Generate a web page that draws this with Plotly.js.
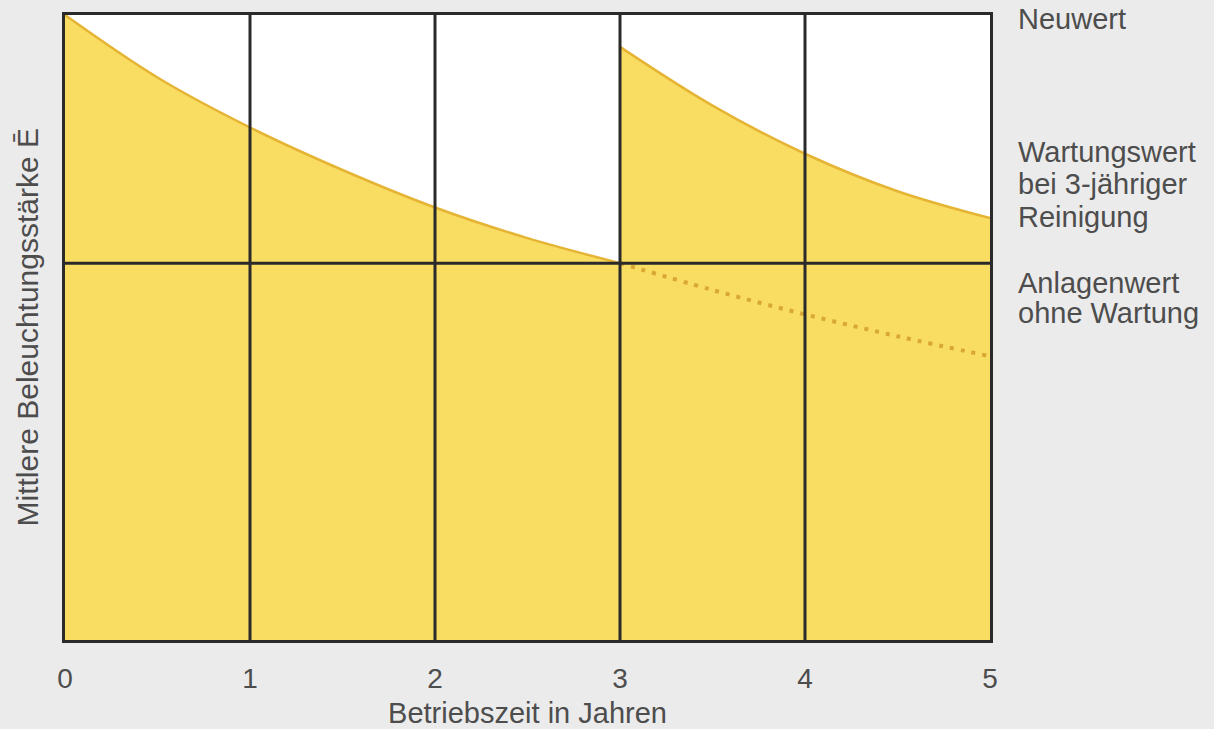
<!DOCTYPE html>
<html>
<head>
<meta charset="utf-8">
<script src="https://cdn.plot.ly/plotly-3.0.1.min.js"></script>
<style>html,body{margin:0;padding:0;background:#ebebeb;}#chart{width:1214px;height:729px;}</style>
</head>
<body>
<div id="chart"></div>
<script>
// Data
const yearsFirst = [0, 0.5, 1, 1.5, 2, 2.5, 3];
const illumFirst = [1.0, 0.900, 0.820, 0.752, 0.692, 0.643, 0.603];
const yearsSecond = [3, 3.5, 4, 4.5, 5];
const illumSecond = [0.949, 0.855, 0.778, 0.718, 0.675];
const yearsNoMaint = [3, 3.5, 4, 4.5, 5];
const illumNoMaint = [0.603, 0.560, 0.521, 0.486, 0.454];
const xTicks = [0, 1, 2, 3, 4, 5];
const gridYears = [1, 2, 3, 4];
const maintenanceValue = 0.603;
const newValue = 1.0;
const labelNeuwert = "Neuwert";
const labelWartung = ["Wartungswert", "bei 3-jähriger", "Reinigung"];
const labelAnlage = ["Anlagenwert", "ohne Wartung"];
const xTitle = "Betriebszeit in Jahren";
const yTitle = "Mittlere Beleuchtungsstärke Ē";

const yellow = "#f8dd62";
const gold = "#e6b434";
const dark = "#2a2a2a";
const textColor = "#4d4d4d";
const font = "Liberation Sans, Arial, sans-serif";

const traces = [
  {x: yearsFirst, y: illumFirst, type: "scatter", mode: "lines", fill: "tozeroy",
   fillcolor: yellow, line: {color: gold, width: 2.5, shape: "spline", smoothing: 1}, hoverinfo: "skip"},
  {x: yearsSecond, y: illumSecond, type: "scatter", mode: "lines", fill: "tozeroy",
   fillcolor: yellow, line: {color: gold, width: 2.5, shape: "spline", smoothing: 1}, hoverinfo: "skip"},
  {x: yearsNoMaint, y: illumNoMaint, type: "scatter", mode: "lines",
   line: {color: "#d9a734", width: 4, dash: "4px,7px", shape: "spline"}, hoverinfo: "skip"}
];
gridYears.forEach(g => traces.push({x: [g, g], y: [0, newValue], type: "scatter", mode: "lines",
  line: {color: dark, width: 3}, hoverinfo: "skip"}));
traces.push({x: [xTicks[0], xTicks[xTicks.length - 1]], y: [maintenanceValue, maintenanceValue],
  type: "scatter", mode: "lines", line: {color: dark, width: 3}, hoverinfo: "skip"});

function py(p) { return (640 - p) / 625; }
const ann = [];
const rightLines = [[labelNeuwert, 19], [labelWartung[0], 152], [labelWartung[1], 184], [labelWartung[2], 217],
  [labelAnlage[0], 283], [labelAnlage[1], 313]];
rightLines.forEach(([t, p]) => ann.push({text: t, xref: "paper", yref: "paper", x: 1, xshift: 26, y: py(p),
  xanchor: "left", yanchor: "middle", showarrow: false, font: {family: font, size: 29, color: textColor}}));
ann.push({text: yTitle, xref: "paper", yref: "paper", x: -38 / 925, y: 0.5, textangle: -90,
  xanchor: "center", yanchor: "middle", showarrow: false, font: {family: font, size: 30, color: textColor}});

const layout = {
  width: 1214, height: 729,
  margin: {l: 65, r: 224, t: 15, b: 89},
  paper_bgcolor: "#ebebeb", plot_bgcolor: "#ffffff",
  showlegend: false,
  xaxis: {range: [0, 5], tickvals: xTicks, showgrid: false, zeroline: false,
    showline: true, mirror: true, linecolor: dark, linewidth: 3, layer: "above traces",
    ticks: "outside", ticklen: 11, tickcolor: "rgba(0,0,0,0)",
    tickfont: {family: font, size: 28, color: textColor},
    title: {text: xTitle, standoff: 12, font: {family: font, size: 29, color: textColor}}},
  yaxis: {range: [0, 1], showticklabels: false, showgrid: false, zeroline: false,
    showline: true, mirror: true, linecolor: dark, linewidth: 3, layer: "above traces", ticks: ""},
  annotations: ann
};
Plotly.newPlot("chart", traces, layout, {staticPlot: true});
</script>
</body>
</html>
